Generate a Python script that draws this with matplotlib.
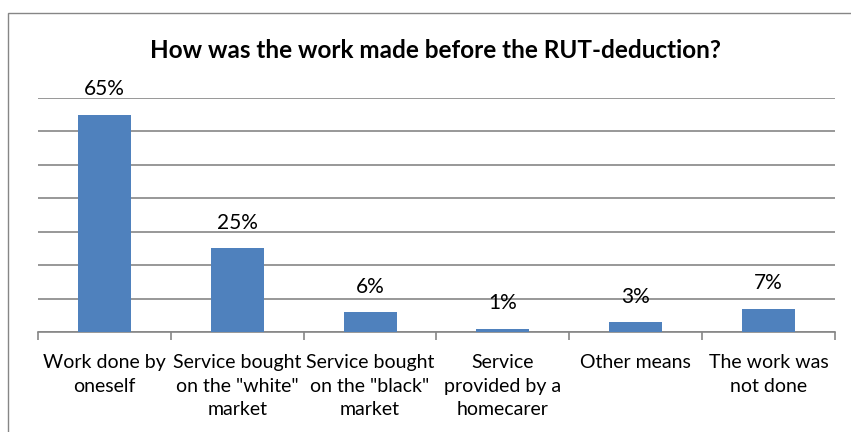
import matplotlib.pyplot as plt
import numpy as np
from matplotlib.patches import Rectangle

# survey answers, share of respondents in percent
categories = [
    "Work done by\noneself",
    "Service bought\non the \"white\"\nmarket",
    "Service bought\non the \"black\"\nmarket",
    "Service\nprovided by a\nhomecarer",
    "Other means",
    "The work was\nnot done",
]
shares = [65, 25, 6, 1, 3, 7]

BAR_COLOR = "#4F81BD"
GRID_COLOR = "#868686"

plt.rcParams["font.family"] = ["Lato", "DejaVu Sans"]

fig = plt.figure(figsize=(8.51, 4.32), dpi=100)
ax = fig.add_axes([38 / 851, 1 - 332 / 432, (835 - 38) / 851, (332 - 98) / 432])

# chart frame (runs off the right and bottom edge)
fig.patches.append(Rectangle((8 / 851, -0.1), 1.0, 1 - 13 / 432 + 0.1,
                             transform=fig.transFigure, fill=False,
                             edgecolor=GRID_COLOR, linewidth=1.0))

x = np.arange(len(categories))
bars = ax.bar(x, shares, width=0.4, color=BAR_COLOR, zorder=3)

for bar, val in zip(bars, shares):
    ax.text(bar.get_x() + bar.get_width() / 2, bar.get_height() + 4.6,
            f"{val}%", ha="center", va="bottom", fontsize=15, zorder=4)

ax.set_xlim(-0.5, len(categories) - 0.5)
ax.set_ylim(0, 70)
ax.set_yticks(np.arange(0, 71, 10))
ax.set_yticklabels([])
ax.tick_params(axis="y", length=0)
ax.grid(axis="y", color=GRID_COLOR, linewidth=1.2, zorder=0)

# category labels under the bars, tick marks at the boundaries
ax.set_xticks(x)
ax.set_xticklabels(categories, fontsize=14, linespacing=1.45, va="top")
ax.tick_params(axis="x", length=0, pad=16)
ax.set_xticks(np.arange(-0.5, len(categories)), minor=True)
ax.tick_params(axis="x", which="minor", length=6, width=1.2, color=GRID_COLOR)

for side in ["top", "right", "left"]:
    ax.spines[side].set_visible(False)
ax.spines["bottom"].set_color(GRID_COLOR)
ax.spines["bottom"].set_linewidth(1.2)

fig.text(436 / 851, 1 - 51 / 432, "How was the work made before the RUT-deduction?",
         ha="center", va="center", fontsize=17.5, fontweight="bold")

fig.savefig("out.png", dpi=100)
